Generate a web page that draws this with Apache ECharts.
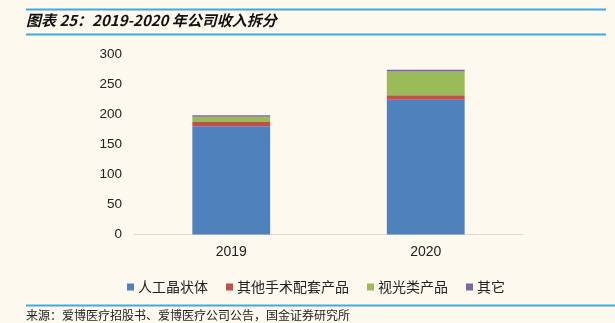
<!DOCTYPE html>
<html>
<head>
<meta charset="utf-8">
<script src="https://cdn.jsdelivr.net/npm/echarts@6/dist/echarts.min.js"></script>
<style>
  html, body { margin: 0; padding: 0; background: #FDF9EE; }
  #chart { width: 615px; height: 323px; }
</style>
</head>
<body>
<div id="chart"></div>
<script>
// 2019-2020 revenue split (units as in the company filings)
const years = ['2019', '2020'];
const seriesNames = ['人工晶状体', '其他手术配套产品', '视光类产品', '其它'];
const lensRevenue = [180, 224];
const surgicalKits = [7, 7.5];
const visionCare = [8.5, 39.5];
const otherRevenue = [2.5, 3];
const seriesValues = [lensRevenue, surgicalKits, visionCare, otherRevenue];
const seriesColors = ['#4F81BD', '#C0504D', '#9BBB59', '#8064A2'];
const yTicks = { min: 0, max: 300, interval: 50 };

const titleText = '图表 25：2019-2020 年公司收入拆分';
const sourceText = '来源：爱博医疗招股书、爱博医疗公司公告，国金证券研究所';

const cjk = '"Noto Sans CJK SC", "Noto Sans", sans-serif';
const latin = '"Liberation Sans", Arial, sans-serif';
const ruleColor = '#3FA9E0';

const chart = echarts.init(document.getElementById('chart'), null, { renderer: 'canvas' });

chart.setOption({
  backgroundColor: '#FDF9EE',
  animation: false,
  grid: { left: 134, right: 92, top: 54, bottom: 88.5 },
  legend: {
    left: 122,
    top: 275,
    itemWidth: 7,
    itemHeight: 7,
    itemGap: 18,
    icon: 'rect',
    textStyle: { fontFamily: cjk, fontSize: 14, color: '#222', padding: [0, 0, 0, -1] },
    data: seriesNames
  },
  xAxis: {
    type: 'category',
    data: years,
    axisLine: { lineStyle: { color: '#D9D9D9', width: 1 } },
    axisTick: { show: false },
    axisLabel: { fontFamily: latin, fontSize: 14, color: '#222', margin: 11 }
  },
  yAxis: {
    type: 'value',
    min: yTicks.min,
    max: yTicks.max,
    interval: yTicks.interval,
    axisLine: { show: false },
    axisTick: { show: false },
    splitLine: { show: false },
    axisLabel: { fontFamily: latin, fontSize: 13.5, color: '#222', margin: 12 }
  },
  series: seriesNames.map((name, i) => ({
    name: name,
    type: 'bar',
    stack: 'revenue',
    barWidth: '40%',
    itemStyle: { color: seriesColors[i] },
    data: seriesValues[i]
  })),
  graphic: [
    { type: 'rect', shape: { x: 26, y: 8.5, width: 580, height: 2 }, style: { fill: ruleColor } },
    { type: 'rect', shape: { x: 26, y: 33.5, width: 580, height: 2 }, style: { fill: ruleColor } },
    {
      type: 'text', left: 26, top: 12.5,
      style: { text: titleText, fontFamily: cjk, fontSize: 15, fontWeight: 'bold', fontStyle: 'italic', fill: '#111' }
    },
    { type: 'rect', shape: { x: 26, y: 304.5, width: 589, height: 2 }, style: { fill: ruleColor } },
    {
      type: 'text', left: 26, top: 309,
      style: { text: sourceText, fontFamily: cjk, fontSize: 12, fill: '#222' }
    }
  ]
});
</script>
</body>
</html>
